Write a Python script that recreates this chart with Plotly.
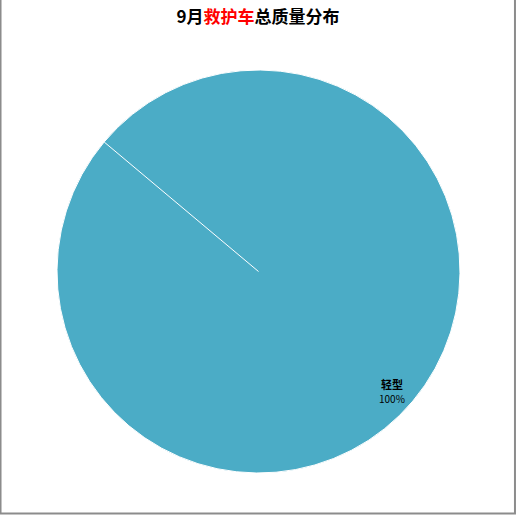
import math
import plotly.graph_objects as go

# chart data
categories = ["轻型"]
values = [100]
slice_colors = ["#4BACC6"]
start_angle = 310  # degrees clockwise from 12 o'clock (Excel first-slice angle)

W, H = 516, 515
dom_x = [57 / W, 460 / W]
dom_y = [1 - 473 / H, 1 - 70 / H]

fig = go.Figure(go.Pie(
    labels=categories,
    values=values,
    marker=dict(colors=slice_colors, line=dict(color="white", width=1)),
    sort=False,
    direction="clockwise",
    rotation=start_angle,
    textinfo="none",
    hoverinfo="label+percent",
    showlegend=False,
    domain=dict(x=dom_x, y=dom_y),
))

# pie geometry in pixels (paper == full figure since margins are 0)
cx = (dom_x[0] + dom_x[1]) / 2 * W
cy = (dom_y[0] + dom_y[1]) / 2 * H
r = min((dom_x[1] - dom_x[0]) * W, (dom_y[1] - dom_y[0]) * H) / 2

# slice border line (Excel draws one even for a single full slice)
a = math.radians(start_angle)
fig.add_shape(type="line", xref="paper", yref="paper",
              x0=cx / W, y0=cy / H,
              x1=(cx + r * math.sin(a)) / W, y1=(cy + r * math.cos(a)) / H,
              line=dict(color="white", width=1))

# data labels at mid-angle of each slice
total = sum(values)
acc = 0
for lab, v in zip(categories, values):
    mid = math.radians(start_angle + 2 + (acc + v / 2) / total * 360)
    acc += v
    lx = cx + 0.89 * r * math.sin(mid)
    ly = cy + 0.89 * r * math.cos(mid)
    fig.add_annotation(x=lx / W, y=ly / H, xref="paper", yref="paper",
                       xanchor="center", yanchor="middle",
                       text=f"<b>{lab}</b><br><span style='font-size:10px'>{v / total:.0%}</span>",
                       showarrow=False, align="center",
                       font=dict(family="Noto Sans CJK SC", size=11, color="black"))

# outer frame (left, right, bottom)
fig.add_shape(type="path", xref="paper", yref="paper",
              path="M 0.001,1 L 0.001,0.003 L 0.998,0.003 L 0.998,1",
              line=dict(color="#8C8C8C", width=2))

fig.update_layout(
    width=W, height=H,
    margin=dict(l=0, r=0, t=0, b=0),
    paper_bgcolor="white",
    title=dict(
        text="<b>9月<span style='color:#FF0000'>救护车</span>总质量分布</b>",
        x=0.5, xanchor="center", y=1 - 17 / H, yanchor="middle",
        font=dict(family="Noto Sans CJK SC", size=17, color="black"),
    ),
)

fig.write_html("out.html", config={"displayModeBar": False},
               post_script="document.body.style.margin='0';")
